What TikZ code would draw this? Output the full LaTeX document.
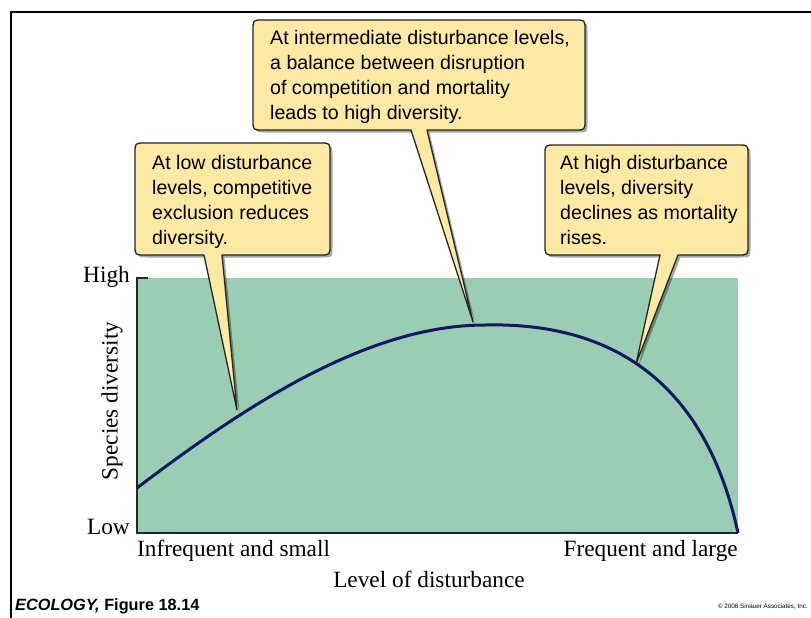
\documentclass[tikz,border=0pt]{standalone}
\usepackage{fontspec}
\setmainfont{Liberation Serif}
\setsansfont{Liberation Sans}
\usetikzlibrary{shadows}
\definecolor{plotgreen}{RGB}{153,206,181}
\definecolor{callyellow}{RGB}{252,233,163}
\definecolor{curvenavy}{RGB}{22,22,100}
\newcommand\calloutbox[8]{%
\filldraw[callstyle] (#5,#4) -- (#7,#8) -- (#6,#4) -- ({#3-10},#4) .. controls (#3,#4) .. (#3,{#4-10}) -- (#3,{#2+10}) .. controls (#3,#2) .. ({#3-10},#2) -- ({#1+10},#2) .. controls (#1,#2) .. (#1,{#2+10}) -- (#1,{#4-10}) .. controls (#1,#4) .. ({#1+10},#4) -- cycle;}
\begin{document}
\begin{tikzpicture}[x=1pt,y=-1pt,
  callstyle/.style={fill=callyellow, draw=black!85, line width=1.3pt, line join=round,
    drop shadow={shadow xshift=2.5pt, shadow yshift=-2.5pt, fill=black, opacity=0.35}},
  calltext/.style={anchor=north west, inner sep=0pt, align=left,
    font=\sffamily\fontsize{19.6}{25}\selectfont},
  axislabel/.style={inner sep=0pt, font=\fontsize{23.3}{26}\selectfont},
  axisline/.style={draw=black!85, line width=1.5pt}]
\useasboundingbox (0,0) rectangle (811,618);
% frame
\draw[line width=2pt] (811,12) -- (11,12) -- (11,618);
% plot area
\fill[plotgreen] (137,278) rectangle (738,533);
\coordinate (cstart) at (137,488);
\coordinate (cpeak) at (485,325);
\coordinate (cend) at (738,533);
\draw[curvenavy, line width=3pt] (cstart) .. controls (250,402) and (370,325) .. (cpeak)
  .. controls (610,322) and (705,380) .. (cend);
\draw[axisline] (148,278) -- (137,278) -- (137,533) -- (738,533);
% axis labels
\node[axislabel, anchor=east] (high) at (130,277) {High};
\node[axislabel, anchor=east] (low) at (130,527) {Low};
\node[axislabel, rotate=90] (ylab) at (112,401) {Species diversity};
\node[axislabel, anchor=west] (xl) at (137,551) {Infrequent and small};
\node[axislabel, anchor=east] (xr) at (738,551) {Frequent and large};
\node[axislabel] (xlab) at (429,579) {Level of disturbance};
% callouts
\calloutbox{135}{143}{330}{255}{204}{222}{237}{410}
\node[calltext] (t1) at (152,155) {At low disturbance\\levels, competitive\\exclusion reduces\\diversity.};
\calloutbox{253}{20}{585}{130}{411}{427}{473}{322}
\node[calltext] (t2) at (270,30) {At intermediate disturbance levels,\\a balance between disruption\\of competition and mortality\\leads to high diversity.};
\calloutbox{545}{145}{748}{255}{660}{678}{636}{364}
\node[calltext] (t3) at (560,155) {At high disturbance\\levels, diversity\\declines as mortality\\rises.};
% footer
\node[anchor=west, inner sep=0pt, font=\sffamily\bfseries\fontsize{16.3}{18}\selectfont] (fig) at (15,606) {\textit{ECOLOGY,} Figure 18.14};
\node[anchor=east, inner sep=0pt, font=\sffamily\fontsize{6.3}{8}\selectfont] (copy) at (808,607) {© 2008 Sinauer Associates, Inc.};
\end{tikzpicture}
\end{document}
